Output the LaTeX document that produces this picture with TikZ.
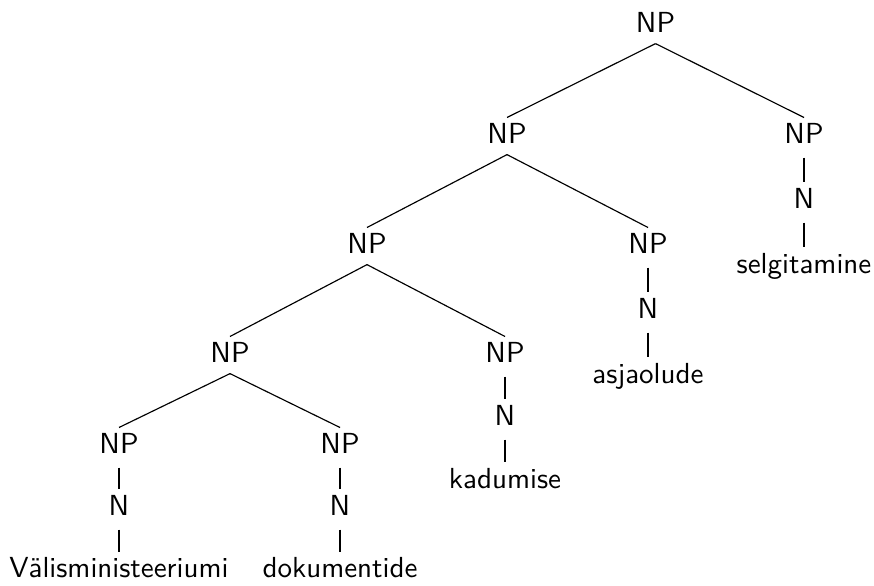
\documentclass[tikz,border=0pt]{standalone}
\tikzset{
  cat/.style={font=\sffamily, inner sep=0pt, anchor=base, text height=8.6pt, text depth=3.8pt},
  unary/.style={shorten <=1pt},
}
\begin{document}
\begin{tikzpicture}[x=0.3448pt, y=-0.3448pt, every node/.style={cat}]
\useasboundingbox (0,0) rectangle (874,585);
\node (np)     at (655.5,32) {NP};
\node (np1)    at (507,143) {NP};
\node (np2)    at (804,143) {NP};
\node (n2)     at (804,208) {N};
\node (w2)     at (804,273) {selgitamine};
\node (np11)   at (367,253) {NP};
\node (np12)   at (648,253) {NP};
\node (n12)    at (648,318) {N};
\node (w12)    at (648,383) {asjaolude};
\node (np111)  at (230,362) {NP};
\node (np112)  at (505,362) {NP};
\node (n112)   at (505,425) {N};
\node (w112)   at (505,488) {kadumise};
\node (np1111) at (119,453) {NP};
\node (np1112) at (340,453) {NP};
\node (n1111)  at (119,515) {N};
\node (n1112)  at (340,515) {N};
\node (w1111)  at (119,577) {Välisministeeriumi};
\node (w1112)  at (340,577) {dokumentide};
\foreach \p/\c in {np/np1, np/np2, np1/np11, np1/np12, np11/np111, np11/np112,
                   np111/np1111, np111/np1112}
  \draw (\p.south) -- (\c.north);
\foreach \p/\c in {np2/n2, n2/w2, np12/n12, n12/w12, np112/n112, n112/w112,
                   np1111/n1111, n1111/w1111, np1112/n1112, n1112/w1112}
  \draw[unary] (\p.south) -- (\c.north);
\end{tikzpicture}
\end{document}
